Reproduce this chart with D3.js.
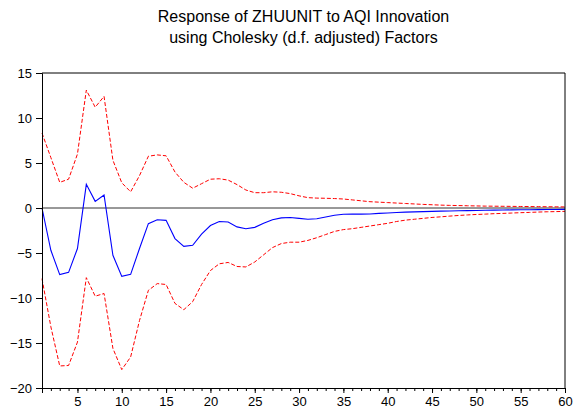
<!DOCTYPE html>
<html>
<head>
<meta charset="utf-8">
<script src="https://cdn.jsdelivr.net/npm/d3@7"></script>
<style>
  body { margin: 0; background: #fff; }
  text { font-family: Arial, "Liberation Sans", sans-serif; }
</style>
</head>
<body>
<div id="vis"></div>
<script>
// ---- Data ----
const titleLines = [
  "Response of ZHUUNIT to AQI Innovation",
  "using Cholesky (d.f. adjusted) Factors"
];

const periods = d3.range(1, 61);

const response = [
  0, -4.7, -7.4, -7.15, -4.5, 2.63, 0.74, 1.45, -5.25, -7.6,
  -7.37, -4.5, -1.74, -1.3, -1.37, -3.4, -4.26, -4.15, -2.9, -1.95,
  -1.5, -1.55, -2.1, -2.3, -2.15, -1.7, -1.3, -1.1, -1.05, -1.15,
  -1.25, -1.2, -1.0, -0.8, -0.7, -0.67, -0.68, -0.67, -0.6, -0.55,
  -0.5, -0.46, -0.43, -0.4, -0.38, -0.35, -0.33, -0.31, -0.29, -0.27,
  -0.25, -0.24, -0.22, -0.21, -0.2, -0.19, -0.18, -0.17, -0.16, -0.15
];

const upperBand = [
  8.33, 5.6, 2.85, 3.2, 6.0, 13.1, 11.2, 12.4, 5.3, 2.8,
  1.8, 3.6, 5.75, 5.9, 5.8, 4.0, 2.85, 2.2, 2.7, 3.2,
  3.25, 3.1, 2.6, 2.0, 1.7, 1.7, 1.8, 1.75, 1.6, 1.35,
  1.15, 1.1, 1.08, 1.05, 1.0, 0.9, 0.8, 0.7, 0.65, 0.6,
  0.55, 0.5, 0.45, 0.4, 0.36, 0.32, 0.29, 0.27, 0.25, 0.23,
  0.21, 0.2, 0.19, 0.18, 0.17, 0.16, 0.15, 0.14, 0.13, 0.12
];

const lowerBand = [
  -7.85, -13.2, -17.55, -17.5, -14.9, -7.74, -9.8, -9.5, -15.6, -17.96,
  -16.55, -12.5, -9.15, -8.4, -8.5, -10.6, -11.3, -10.4, -8.5, -6.95,
  -6.2, -6.05, -6.5, -6.55, -6.0, -5.2, -4.4, -3.95, -3.8, -3.8,
  -3.6, -3.3, -2.95, -2.6, -2.4, -2.3, -2.15, -2.0, -1.85, -1.7,
  -1.5, -1.35, -1.25, -1.15, -1.05, -0.98, -0.9, -0.83, -0.77, -0.72,
  -0.68, -0.63, -0.6, -0.56, -0.52, -0.49, -0.45, -0.42, -0.4, -0.37
];

const yTicks = [-20, -15, -10, -5, 0, 5, 10, 15];
const xTickLabels = [5, 10, 15, 20, 25, 30, 35, 40, 45, 50, 55, 60];

// ---- Layout ----
const outerWidth = 581;
const outerHeight = 417;
const margin = { top: 73, right: 16, bottom: 29, left: 42 };
const width = outerWidth - margin.left - margin.right;
const height = outerHeight - margin.top - margin.bottom;

const root = d3.select("#vis")
  .append("svg")
  .attr("width", outerWidth)
  .attr("height", outerHeight)
  .style("display", "block");

const svg = root.append("g")
  .attr("transform", `translate(${margin.left},${margin.top})`);

const x = d3.scaleLinear().domain([1, 60]).range([0, width]);
const y = d3.scaleLinear().domain([-20, 15]).range([height, 0]);

// Title
root.append("g")
  .selectAll("text")
  .data(titleLines)
  .join("text")
  .attr("x", margin.left + width / 2)
  .attr("y", (d, i) => 22 + i * 21)
  .attr("text-anchor", "middle")
  .attr("font-size", 16)
  .attr("fill", "#000")
  .text(d => d);

// zero line
svg.append("line")
  .attr("x1", 0).attr("x2", width)
  .attr("y1", y(0)).attr("y2", y(0))
  .attr("stroke", "#333")
  .attr("stroke-width", 1);

// lines
const line = d3.line()
  .x((d, i) => x(periods[i]))
  .y(d => y(d));

svg.append("path")
  .datum(upperBand)
  .attr("d", line)
  .attr("fill", "none")
  .attr("stroke", "#ff0000")
  .attr("stroke-width", 1)
  .attr("stroke-dasharray", "4,2");

svg.append("path")
  .datum(lowerBand)
  .attr("d", line)
  .attr("fill", "none")
  .attr("stroke", "#ff0000")
  .attr("stroke-width", 1)
  .attr("stroke-dasharray", "4,2");

svg.append("path")
  .datum(response)
  .attr("d", line)
  .attr("fill", "none")
  .attr("stroke", "#0000ff")
  .attr("stroke-width", 1.1);

// frame: top and right
svg.append("path")
  .attr("d", `M0,0H${width}V${height}`)
  .attr("fill", "none")
  .attr("stroke", "#000")
  .attr("stroke-width", 1);

// ---- Axes ----
svg.append("g")
  .call(d3.axisLeft(y).tickValues(yTicks).tickSize(6).tickPadding(4));

svg.append("g")
  .attr("transform", `translate(0,${height})`)
  .call(d3.axisBottom(x).tickValues(periods).tickSize(3).tickFormat(""));

svg.append("g")
  .attr("transform", `translate(0,${height})`)
  .call(d3.axisBottom(x).tickValues(xTickLabels).tickSize(5).tickPadding(4));

svg.selectAll(".domain").attr("stroke", "#000");
svg.selectAll(".tick line").attr("stroke", "#000");
svg.selectAll(".tick text")
  .attr("font-size", 13)
  .attr("fill", "#000")
  .attr("font-family", "Arial, 'Liberation Sans', sans-serif");
</script>
</body>
</html>
